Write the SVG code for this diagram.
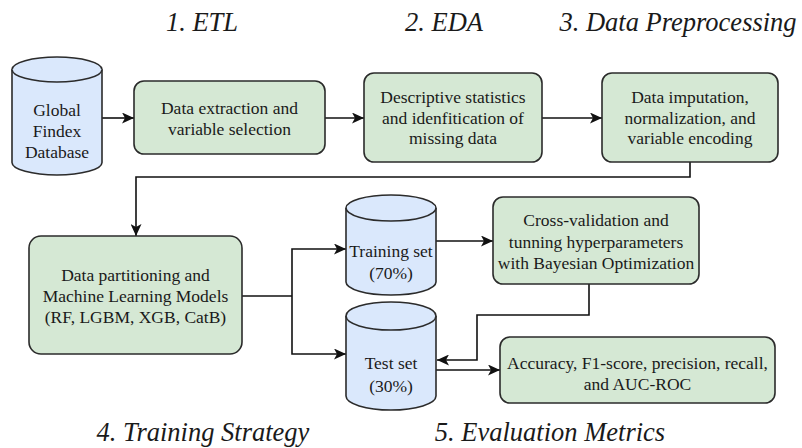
<svg xmlns="http://www.w3.org/2000/svg" width="802" height="448" viewBox="0 0 802 448">
  <style>
    .title { font-family: 'Liberation Serif', Tinos, 'Times New Roman', 'DejaVu Serif', serif; font-style: italic; font-size: 26.5px; fill: #1a1a1a; text-anchor: middle; }
    .lbl { font-family: 'Liberation Serif', Tinos, 'Times New Roman', 'DejaVu Serif', serif; font-size: 17.5px; fill: #1a1a1a; text-anchor: middle; }
    .box { fill: #d5e8d4; stroke: #2b2b2b; stroke-width: 1.6; }
    .cyl { fill: #dae8fc; stroke: #2b2b2b; stroke-width: 1.6; }
    .edge { fill: none; stroke: #111; stroke-width: 1.6; }
  </style>
  <defs>
    <marker id="arrow" viewBox="0 0 12 11" refX="12" refY="5.5" markerWidth="12" markerHeight="11" markerUnits="userSpaceOnUse" orient="auto">
      <path d="M0,0 L12,5.5 L0,11 L3,5.5 Z" fill="#111"/>
    </marker>
  </defs>
  <rect width="802" height="448" fill="#ffffff"/>

  <!-- stage titles -->
  <g id="titles">
    <text class="title" x="202" y="31">1. ETL</text>
    <text class="title" x="444" y="31">2. EDA</text>
    <text class="title" x="678" y="31">3. Data Preprocessing</text>
    <text class="title" x="203" y="441">4. Training Strategy</text>
    <text class="title" x="550" y="441">5. Evaluation Metrics</text>
  </g>

  <!-- connectors -->
  <g id="connectors">
    <path class="edge" d="M102,118 H134" marker-end="url(#arrow)"/>
    <path class="edge" d="M325,118 H364" marker-end="url(#arrow)"/>
    <path class="edge" d="M542,118 H602" marker-end="url(#arrow)"/>
    <path class="edge" d="M690,162 V177 H136 V236" marker-end="url(#arrow)"/>
    <path class="edge" d="M242,296 H292"/>
    <path class="edge" d="M292,296 V249 H346" marker-end="url(#arrow)"/>
    <path class="edge" d="M292,296 V354 H346" marker-end="url(#arrow)"/>
    <path class="edge" d="M436,241 H493" marker-end="url(#arrow)"/>
    <path class="edge" d="M589,284 V315 H477 V360 H437" marker-end="url(#arrow)"/>
    <path class="edge" d="M436,370 H500" marker-end="url(#arrow)"/>
  </g>

  <g id="global-findex">
    <path class="cyl" d="M12,69.5 A45,12.5 0 0 1 102,69.5 V162.5 A45,12.5 0 0 1 12,162.5 Z"/>
    <path class="cyl" fill="none" d="M12,69.5 A45,12.5 0 0 0 102,69.5"/>
    <text class="lbl" x="57" y="116">Global</text>
    <text class="lbl" x="57" y="137">Findex</text>
    <text class="lbl" x="57" y="158">Database</text>
  </g>

  <g id="extraction">
    <rect class="box" x="134" y="81" width="191" height="73" rx="10"/>
    <text class="lbl" x="229.5" y="114">Data extraction and</text>
    <text class="lbl" x="229.5" y="135">variable selection</text>
  </g>

  <g id="descriptive">
    <rect class="box" x="364" y="73" width="178" height="89" rx="10"/>
    <text class="lbl" x="453" y="103">Descriptive statistics</text>
    <text class="lbl" x="453" y="124">and idenfitication of</text>
    <text class="lbl" x="453" y="144">missing data</text>
  </g>

  <g id="imputation">
    <rect class="box" x="602" y="73" width="176" height="89" rx="10"/>
    <text class="lbl" x="690" y="103">Data imputation,</text>
    <text class="lbl" x="690" y="124">normalization, and</text>
    <text class="lbl" x="690" y="144">variable encoding</text>
  </g>

  <g id="partitioning">
    <rect class="box" x="29" y="236" width="213" height="118" rx="12"/>
    <text class="lbl" x="135.5" y="281">Data partitioning and</text>
    <text class="lbl" x="135.5" y="302">Machine Learning Models</text>
    <text class="lbl" x="135.5" y="323">(RF, LGBM, XGB, CatB)</text>
  </g>

  <g id="training-set">
    <path class="cyl" d="M346,208 A45,13 0 0 1 436,208 V282 A45,13 0 0 1 346,282 Z"/>
    <path class="cyl" fill="none" d="M346,208 A45,13 0 0 0 436,208"/>
    <text class="lbl" x="391" y="257">Training set</text>
    <text class="lbl" x="391" y="279">(70%)</text>
  </g>

  <g id="test-set">
    <path class="cyl" d="M346,316 A45,14 0 0 1 436,316 V396 A45,14 0 0 1 346,396 Z"/>
    <path class="cyl" fill="none" d="M346,316 A45,14 0 0 0 436,316"/>
    <text class="lbl" x="391" y="369">Test set</text>
    <text class="lbl" x="391" y="392">(30%)</text>
  </g>

  <g id="tuning">
    <rect class="box" x="493" y="197" width="206" height="87" rx="10"/>
    <text class="lbl" x="596" y="226">Cross-validation and</text>
    <text class="lbl" x="596" y="248">tunning hyperparameters</text>
    <text class="lbl" x="596" y="269">with Bayesian Optimization</text>
  </g>

  <g id="metrics">
    <rect class="box" x="500" y="337" width="275" height="66" rx="10"/>
    <text class="lbl" x="637.5" y="369">Accuracy, F1-score, precision, recall,</text>
    <text class="lbl" x="637.5" y="390">and AUC-ROC</text>
  </g>
</svg>
